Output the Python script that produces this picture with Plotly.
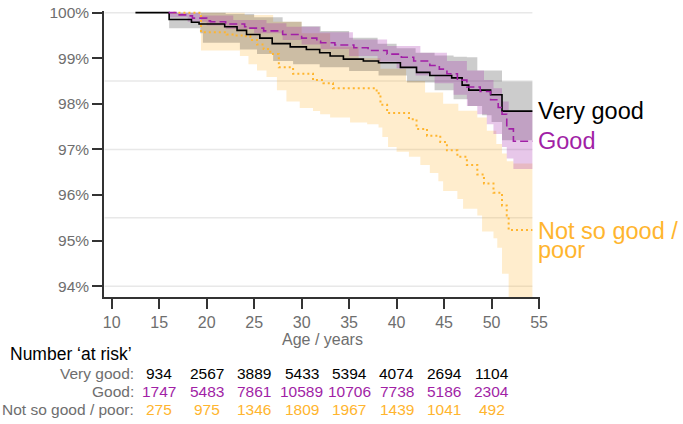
import plotly.graph_objects as go

# ---------------- data ----------------
vg_age = [12.5, 16.05, 18.4, 19.2, 21.9, 23.2, 24.2, 25.6, 26.9, 28.8, 30.5, 31.9, 33.0, 34.4, 36.5, 38.1,
          40.4, 42.1, 43.5, 45.8, 46.9, 47.6, 49.9, 51.1, 54.3]
vg_surv = [100, 99.85, 99.79, 99.75, 99.69, 99.61, 99.52, 99.44, 99.32, 99.25, 99.19, 99.12, 99.05, 98.98, 98.94,
           98.90, 98.80, 98.69, 98.62, 98.57, 98.41, 98.30, 98.20, 97.84, 97.84]
vg_up_age = [16.05, 22.0, 25.0, 28.0, 30.0, 32.0, 35.0, 38.0, 40.0, 42.0, 44.0, 46.0, 47.4, 48.5, 51.1, 54.3]
vg_up = [100, 99.97, 99.9, 99.8, 99.7, 99.6, 99.45, 99.32, 99.22, 99.12, 99.06, 99.03, 99.02, 98.73, 98.49, 98.49]
vg_lo_age = [16.05, 19.3, 19.6, 23.5, 25.3, 27.0, 29.1, 31.9, 35.0, 38.1, 41.1, 44.0, 46.0, 47.5, 49.0, 50.0,
             51.1, 54.3]
vg_lo = [99.66, 99.55, 99.34, 99.19, 99.09, 98.94, 98.87, 98.80, 98.72, 98.62, 98.47, 98.3, 98.1, 97.95, 97.75,
         97.6, 97.2, 97.2]

g_age = [16.0, 17.0, 17.9, 18.5, 20.0, 20.4, 22.0, 24.0, 24.2, 26.0, 28.0, 30.0, 31.6, 32.0, 33.5, 35.5, 37.0,
         39.0, 40.5, 41.8, 43.5, 44.5, 45.3, 46.4, 47.4, 48.8, 49.9, 50.7, 51.1, 51.6, 52.3, 54.3]
g_surv = [100, 99.95, 99.93, 99.88, 99.82, 99.80, 99.75, 99.69, 99.66, 99.60, 99.52, 99.44, 99.37, 99.34, 99.29,
          99.23, 99.17, 99.09, 99.02, 98.94, 98.84, 98.76, 98.66, 98.52, 98.37, 98.27, 98.09, 97.92, 97.77, 97.45,
          97.18, 97.18]
g_up_age = [16.0, 19.3, 22.8, 26.3, 28.4, 31.9, 35.4, 39.0, 42.5, 45.3, 47.4, 49.2, 50.2, 51.1, 51.8, 54.3]
g_up = [100, 99.94, 99.84, 99.77, 99.69, 99.57, 99.41, 99.27, 99.12, 98.94, 98.73, 98.52, 98.34, 98.05, 97.85, 97.85]
g_lo_age = [16.0, 18.0, 20.0, 22.0, 25.0, 28.0, 30.0, 32.0, 35.0, 38.0, 40.0, 42.0, 44.0, 46.0, 47.4, 48.5, 49.5,
            50.2, 51.1, 51.6, 52.3, 54.3]
g_lo = [99.9, 99.8, 99.72, 99.64, 99.55, 99.4, 99.3, 99.2, 99.05, 98.92, 98.78, 98.62, 98.45, 98.2, 97.95, 97.77,
        97.55, 97.34, 97.05, 96.80, 96.57, 96.57]

n_age = [16.5, 19.4, 22.1, 23.0, 23.8, 24.6, 25.3, 26.0, 26.7, 27.6, 29.1, 31.2, 32.3, 33.3, 37.9, 38.3, 39.0,
         41.3, 42.1, 43.2, 44.6, 45.3, 46.4, 47.4, 48.5, 49.2, 50.2, 51.1, 51.6, 51.8, 54.3]
n_surv = [100, 99.57, 99.52, 99.50, 99.48, 99.40, 99.30, 99.20, 99.09, 98.80, 98.66, 98.52, 98.45, 98.34, 98.23,
          97.98, 97.80, 97.66, 97.45, 97.30, 97.16, 96.98, 96.84, 96.66, 96.45, 96.25, 96.05, 95.77, 95.55, 95.23,
          95.23]
n_up_age = [16.5, 24.0, 27.0, 30.0, 33.0, 36.0, 38.3, 41.0, 43.0, 44.9, 46.5, 48.5, 49.5, 50.5, 51.1, 51.6, 52.3,
            54.3]
n_up = [100, 99.95, 99.8, 99.55, 99.25, 99.0, 98.77, 98.5, 98.25, 98.0, 97.85, 97.7, 97.41, 97.12, 96.91, 96.74,
        96.69, 96.69]
n_lo_age = [16.5, 19.4, 23.5, 24.4, 25.3, 26.3, 27.4, 28.4, 29.8, 31.2, 31.95, 33.0, 35.1, 36.9, 38.1, 38.5, 39.1,
            40.0, 41.3, 42.5, 43.5, 44.4, 44.9, 46.4, 47.0, 48.5, 49.0, 50.2, 50.6, 51.1, 51.8, 54.3]
n_lo = [100, 99.17, 99.05, 98.87, 98.73, 98.59, 98.30, 98.05, 97.91, 97.84, 97.77, 97.70, 97.59, 97.55, 97.48,
        97.27, 97.05, 96.95, 96.84, 96.66, 96.48, 96.30, 96.09, 95.91, 95.70, 95.55, 95.20, 95.05, 94.84, 94.27,
        93.5, 93.5]

group_names = ["Very good", "Good", "Not so good / poor"]
risk_ages = [15, 20, 25, 30, 35, 40, 45, 50]
risk_vg = [934, 2567, 3889, 5433, 5394, 4074, 2694, 1104]
risk_g = [1747, 5483, 7861, 10589, 10706, 7738, 5186, 2304]
risk_n = [275, 975, 1346, 1809, 1967, 1439, 1041, 492]

x_ticks = [10, 15, 20, 25, 30, 35, 40, 45, 50, 55]
y_ticks = [94, 95, 96, 97, 98, 99, 100]
y_ticktext = ["94%", "95%", "96%", "97%", "98%", "99%", "100%"]
grid_vals = [94, 95.5, 97, 98.5, 100]

# ---------------- style ----------------
BLACK = "#000000"
PURPLE = "#a11fa6"
ORANGE = "#ffb52e"
GREY = "#6e6e6e"
FONT = "Liberation Sans, Arial, sans-serif"

fig = go.Figure()


def band(lo_x, lo_y, up_x, up_y, color):
    fig.add_trace(go.Scatter(x=lo_x, y=lo_y, mode="lines", line=dict(width=0, shape="hv"),
                             hoverinfo="skip", showlegend=False))
    fig.add_trace(go.Scatter(x=up_x, y=up_y, mode="lines", line=dict(width=0, shape="hv"),
                             fill="tonexty", fillcolor=color, hoverinfo="skip", showlegend=False))


band(n_lo_age, n_lo, n_up_age, n_up, "rgba(255,181,46,0.24)")
band(vg_lo_age, vg_lo, vg_up_age, vg_up, "rgba(0,0,0,0.2)")
band(g_lo_age, g_lo, g_up_age, g_up, "rgba(161,31,166,0.25)")

fig.add_trace(go.Scatter(x=n_age, y=n_surv, mode="lines", name=group_names[2],
                         line=dict(color=ORANGE, width=2, dash="2px,3px", shape="hv"), showlegend=False))
fig.add_trace(go.Scatter(x=vg_age, y=vg_surv, mode="lines", name=group_names[0],
                         line=dict(color=BLACK, width=1.6, shape="hv"), showlegend=False))
fig.add_trace(go.Scatter(x=g_age, y=g_surv, mode="lines", name=group_names[1],
                         line=dict(color=PURPLE, width=1.6, dash="8px,4px", shape="hv"), showlegend=False))

# gridlines
for gv in grid_vals:
    fig.add_shape(type="line", xref="x", yref="y", x0=9.25, x1=54.3, y0=gv, y1=gv,
                  line=dict(color="#e8e8e8", width=1.5), layer="below")

# right-hand labels
LBL = 23.5
fig.add_annotation(x=0.99, xref="paper", y=vg_surv[-1], yref="y", text=group_names[0], showarrow=False,
                   xanchor="left", yanchor="middle", font=dict(color=BLACK, size=LBL, family=FONT))
fig.add_annotation(x=0.99, xref="paper", y=g_surv[-1], yref="y", text=group_names[1], showarrow=False,
                   xanchor="left", yanchor="middle", font=dict(color=PURPLE, size=LBL, family=FONT))
fig.add_annotation(x=0.99, xref="paper", y=n_surv[-1], yref="y", yshift=-1, text="Not so good /", showarrow=False,
                   xanchor="left", yanchor="middle", font=dict(color=ORANGE, size=LBL, family=FONT))
fig.add_annotation(x=0.99, xref="paper", y=n_surv[-1], yref="y", yshift=-20, text="poor", showarrow=False,
                   xanchor="left", yanchor="middle", font=dict(color=ORANGE, size=LBL, family=FONT))

# axis title
fig.add_annotation(x=0.5, xref="paper", y=-0.147, yref="paper", text="Age / years", showarrow=False,
                   xanchor="center", yanchor="middle", font=dict(color=GREY, size=16, family=FONT))

# number at risk table
fig.add_annotation(x=-0.22, xref="paper", y=-0.198, yref="paper", text="Number \u2018at risk\u2019",
                   showarrow=False, xanchor="left", yanchor="middle",
                   font=dict(color=BLACK, size=17.5, family=FONT))
rows = [(group_names[0], risk_vg, BLACK, -0.268),
        (group_names[1], risk_g, PURPLE, -0.330),
        (group_names[2], risk_n, ORANGE, -0.393)]
for name, vals, col, yy in rows:
    fig.add_annotation(x=0.0734, xref="paper", y=yy, yref="paper", text=name + ":", showarrow=False,
                       xanchor="right", yanchor="middle", font=dict(color=GREY, size=15.5, family=FONT))
    for a, v in zip(risk_ages, vals):
        fig.add_annotation(x=a, xref="x", y=yy, yref="paper", text=str(v), showarrow=False,
                           xanchor="center", yanchor="middle", font=dict(color=col, size=15.5, family=FONT))

fig.update_layout(
    width=683, height=424,
    margin=dict(l=104, r=143, t=4, b=127),
    paper_bgcolor="white", plot_bgcolor="white",
    font=dict(family=FONT, color=GREY, size=15),
    xaxis=dict(range=[9.19, 55.1], tickvals=x_ticks, showgrid=False, zeroline=False,
               showline=True, linecolor="#333333", linewidth=1.5,
               ticks="outside", ticklen=10, tickwidth=1.5, tickcolor="#333333",
               ticklabeloverflow="allow",
               tickfont=dict(color=GREY, size=16, family=FONT)),
    yaxis=dict(range=[93.762, 100.036], tickvals=y_ticks, ticktext=y_ticktext, showgrid=False, zeroline=False,
               showline=True, linecolor="#333333", linewidth=1.5,
               ticks="outside", ticklen=10, tickwidth=1.5, tickcolor="#333333",
               ticklabeloverflow="allow",
               tickfont=dict(color=GREY, size=15.5, family=FONT)),
    showlegend=False,
)

fig.write_html("out.html", config={"displayModeBar": False},
               post_script="document.body.style.margin='0';document.body.style.overflow='hidden';")
